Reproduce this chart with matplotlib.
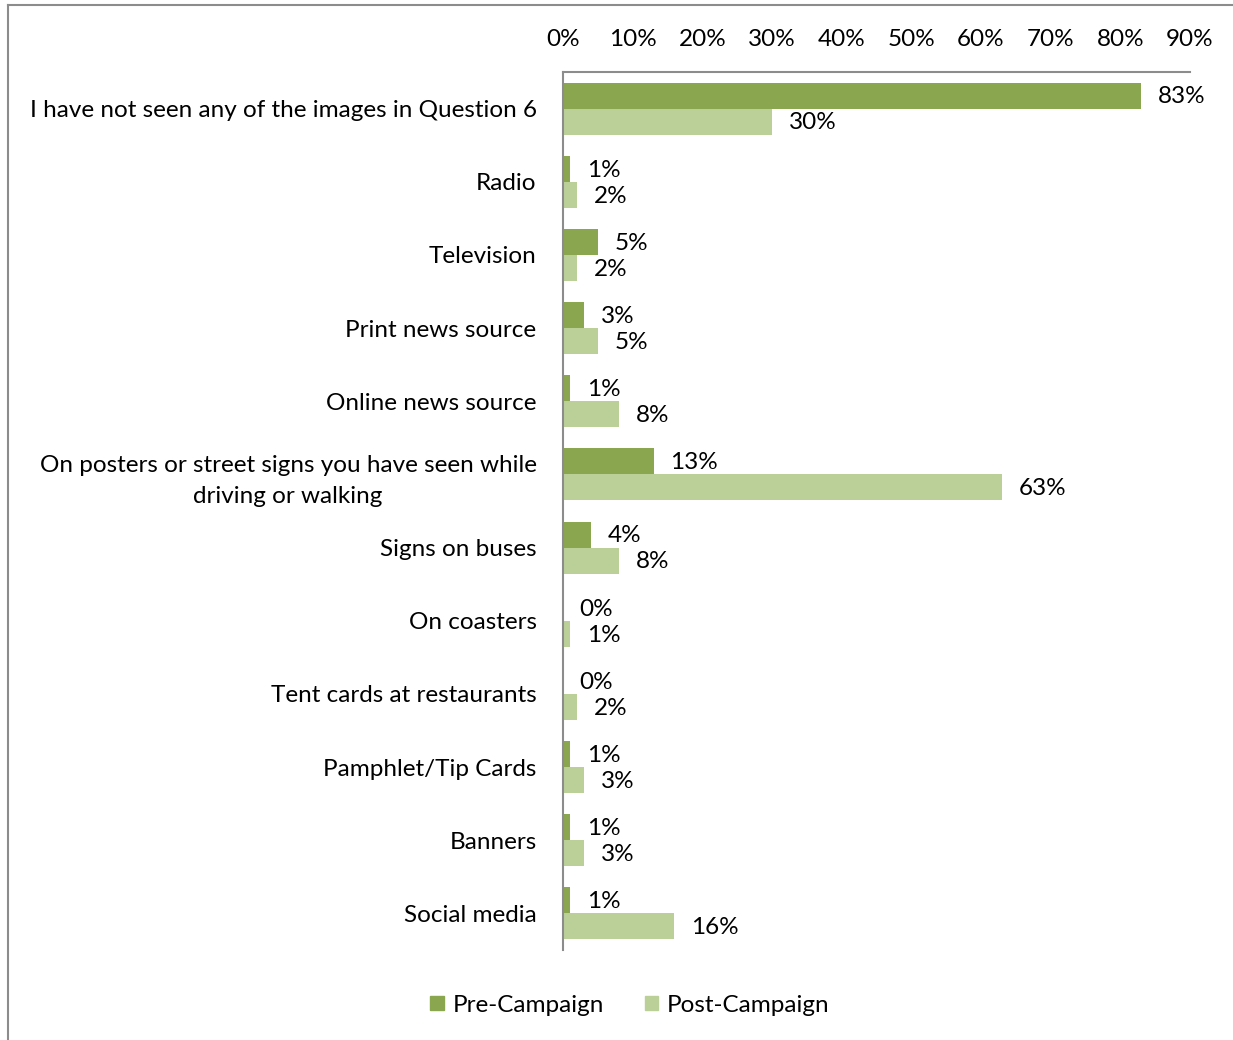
import matplotlib.pyplot as plt
import numpy as np
from matplotlib.patches import Patch

plt.rcParams['font.family'] = ['Lato', 'DejaVu Sans']

categories = [
    "I have not seen any of the images in Question 6",
    "Radio",
    "Television",
    "Print news source",
    "Online news source",
    "On posters or street signs you have seen while\ndriving or walking",
    "Signs on buses",
    "On coasters",
    "Tent cards at restaurants",
    "Pamphlet/Tip Cards",
    "Banners",
    "Social media",
]
pre_campaign = [83, 1, 5, 3, 1, 13, 4, 0, 0, 1, 1, 1]
post_campaign = [30, 2, 2, 5, 8, 63, 8, 1, 2, 3, 3, 16]
ticks = [0, 10, 20, 30, 40, 50, 60, 70, 80, 90]

dark_green = '#8aa64e'
light_green = '#bad098'
fs = 17.5

fig = plt.figure(figsize=(12.33, 10.4), dpi=100)

# outer frame lines (top and left)
fig.add_artist(plt.Line2D([8 / 1233, 8 / 1233], [0, 1 - 5 / 1040],
                          color='#8c8c8c', lw=1.5, transform=fig.transFigure))
fig.add_artist(plt.Line2D([8 / 1233, 1], [1 - 5 / 1040, 1 - 5 / 1040],
                          color='#8c8c8c', lw=1.5, transform=fig.transFigure))

ax = fig.add_axes([563 / 1233, 1 - 950 / 1040, (1190 - 563) / 1233, (950 - 72) / 1040])

y = np.arange(len(categories))
h = 0.355
ax.barh(y - h / 2, pre_campaign, height=h, color=dark_green, label='Pre-Campaign')
ax.barh(y + h / 2, post_campaign, height=h, color=light_green, label='Post-Campaign')

for yi, v in zip(y, pre_campaign):
    ax.annotate(f"{v}%", (v, yi - h / 2), xytext=(12, -1), textcoords='offset points',
                ha='left', va='center', fontsize=fs)
for yi, v in zip(y, post_campaign):
    ax.annotate(f"{v}%", (v, yi + h / 2), xytext=(12, -1), textcoords='offset points',
                ha='left', va='center', fontsize=fs)

ax.set_xlim(0, 90)
ax.set_ylim(len(categories) - 0.5, -0.5)
ax.set_xticks(ticks)
ax.set_xticklabels([f"{t}%" for t in ticks], fontsize=fs)
ax.xaxis.tick_top()
ax.tick_params(axis='x', length=0, pad=16)
ax.set_yticks(y)
ax.set_yticklabels(categories, fontsize=fs, linespacing=1.55)
ax.tick_params(axis='y', length=0, pad=19)
for lbl in ax.get_yticklabels():
    lbl.set_multialignment('center')

for side in ['right', 'bottom']:
    ax.spines[side].set_visible(False)
for side in ['top', 'left']:
    ax.spines[side].set_color('#8c8c8c')
    ax.spines[side].set_linewidth(1.5)

handles = [Patch(color=dark_green), Patch(color=light_green)]
fig.legend(handles, ['Pre-Campaign', 'Post-Campaign'], loc='center',
           bbox_to_anchor=(630 / 1233, 1 - 1005 / 1040), ncol=2, frameon=False,
           fontsize=fs, handlelength=0.55, handleheight=0.55, handletextpad=0.35,
           columnspacing=1.7)

fig.savefig('out.png', dpi=100)
